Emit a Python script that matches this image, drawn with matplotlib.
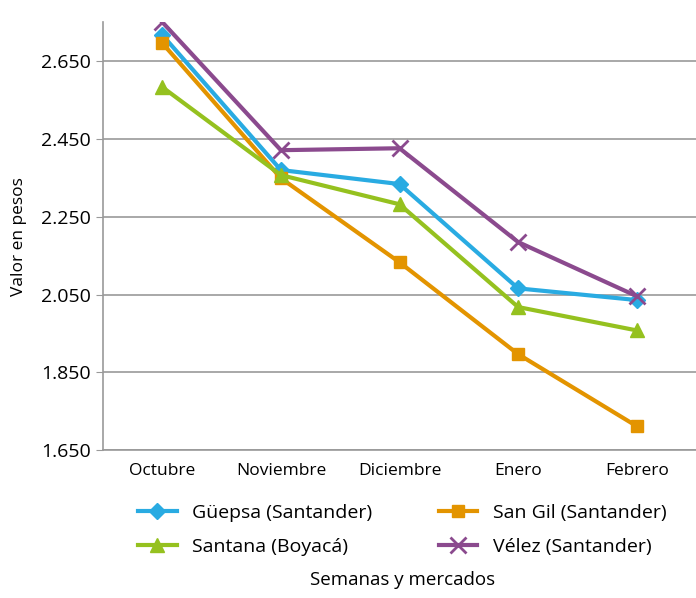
import matplotlib
matplotlib.use("Agg")
import matplotlib.pyplot as plt
from matplotlib.ticker import FuncFormatter

meses = ["Octubre", "Noviembre", "Diciembre", "Enero", "Febrero"]
guepsa = [2717, 2370, 2334, 2066, 2036]
san_gil = [2696, 2349, 2133, 1897, 1712]
santana = [2583, 2357, 2282, 2018, 1958]
velez = [2750, 2421, 2426, 2185, 2046]
yticks = [1650, 1850, 2050, 2250, 2450, 2650]

plt.rcParams['font.family'] = ['Open Sans', 'DejaVu Sans']

fig = plt.figure(figsize=(6.96, 5.98), dpi=100)
ax = fig.add_axes([0.148, 0.247, 0.852, 0.716])

x = range(len(meses))
ax.plot(x, guepsa, color='#29ABE2', lw=3, marker='D', ms=8, label='Güepsa (Santander)', zorder=3)
ax.plot(x, san_gil, color='#E39400', lw=3, marker='s', ms=9, label='San Gil (Santander)', zorder=3)
ax.plot(x, santana, color='#95C11F', lw=3, marker='^', ms=10, label='Santana (Boyacá)', zorder=3)
ax.plot(x, velez, color='#8B4A8E', lw=3, marker='x', ms=12, mew=2, label='Vélez (Santander)', zorder=4)

ax.set_xlim(-0.5, len(meses) - 0.5)
ax.set_ylim(1650, 2750)
ax.set_xticks(list(x))
ax.set_xticklabels(meses, fontsize=12.5)
ax.set_yticks(yticks)
ax.yaxis.set_major_formatter(FuncFormatter(lambda v, p: f"{v/1000:.3f}"))
ax.tick_params(axis='y', labelsize=14, length=5, color='#999999', pad=4)
ax.tick_params(axis='x', length=0, pad=9)
ax.grid(axis='y', color='#999999', lw=1.2)
for s in ['top', 'right']:
    ax.spines[s].set_visible(False)
ax.spines['left'].set_color('#999999')
ax.spines['bottom'].set_color('#999999')
ax.spines['left'].set_linewidth(1.2)
ax.spines['bottom'].set_linewidth(1.2)
ax.set_ylabel("Valor en pesos", fontsize=12.5, labelpad=10)

handles, labels = ax.get_legend_handles_labels()
order = [0, 2, 1, 3]
fig.legend([handles[i] for i in order], [labels[i] for i in order], ncol=2,
           loc='center', bbox_to_anchor=(0.578, 0.114), frameon=False,
           fontsize=14, handlelength=2.0, handletextpad=0.8,
           columnspacing=3.4, labelspacing=0.85)
fig.text(0.578, 0.030, "Semanas y mercados", ha='center', va='center', fontsize=13.5)

fig.savefig("out.png", dpi=100)
